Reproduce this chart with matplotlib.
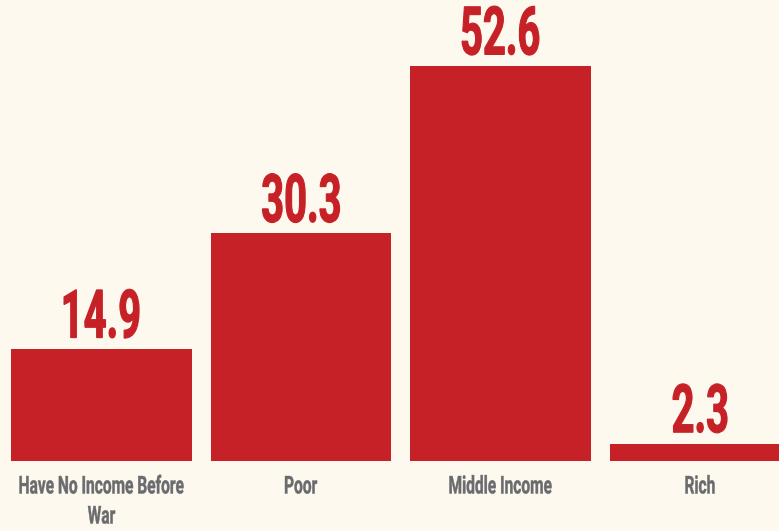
import matplotlib
matplotlib.use("Agg")
from matplotlib import pyplot as plt
from matplotlib.textpath import TextPath
from matplotlib.patches import PathPatch
from matplotlib.font_manager import FontProperties
from matplotlib.transforms import Affine2D

categories = ["Have No Income Before\nWar", "Poor", "Middle Income", "Rich"]
values = [14.9, 30.3, 52.6, 2.3]
value_labels = ["14.9", "30.3", "52.6", "2.3"]

bg = "#fef9ee"
red = "#c62127"
grey = "#6a6b6e"

# no condensed face is installed, so text is drawn as squeezed outlines
prop = FontProperties(family="Roboto", weight="bold")


def path_of(s):
    return TextPath((0, 0), s, size=100, prop=prop)


def squeeze(ref, cap_px, ref_width, width_px):
    sy = cap_px / path_of(ref).get_extents().height
    k = width_px / (path_of(ref_width).get_extents().width * sy)
    return sy, k


def narrow_text(s, cx, base_y, sy, k, color, lw):
    p = path_of(s)
    ext = p.get_extents()
    tr = (Affine2D().translate(-(ext.x0 + ext.x1) / 2, 0)
          .scale(sy * k, sy).translate(cx, base_y))
    fig.add_artist(PathPatch(p, transform=tr, fc=color, ec=color, lw=lw))


fig = plt.figure(figsize=(7.79, 5.31), dpi=100, facecolor=bg)
ax = fig.add_axes([0, 0, 1, 1])
ax.set_facecolor(bg)

x = list(range(len(values)))
ax.bar(x, values, width=0.907, color=red)
ax.set_xlim(-0.509, 3.396)
ax.set_ylim(-9.32, 61.38)
ax.axis("off")

sy_v, k_v = squeeze("0", 49, "14.9", 75)
sy_c, k_c = squeeze("H", 17.5, "Have No Income Before", 164)

for xi, v, lab in zip(x, values, value_labels):
    px, py = ax.transData.transform((xi, v))
    narrow_text(lab, px, py + 11.5, sy_v, k_v, red, 0.8)

base0 = ax.transData.transform((0, 0))[1]
for xi, c in zip(x, categories):
    px = ax.transData.transform((xi, 0))[0]
    for i, line in enumerate(c.split("\n")):
        narrow_text(line, px, base0 - 32.5 - 30 * i, sy_c, k_c, grey, 0.3)

fig.savefig("out.png", dpi=100, facecolor=bg)
